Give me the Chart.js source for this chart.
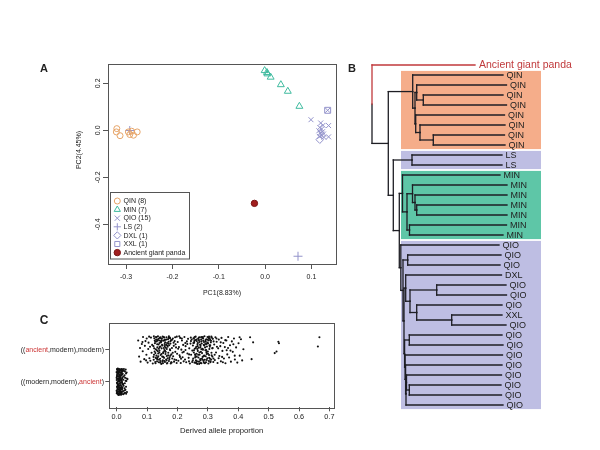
<!DOCTYPE html>
<html><head><meta charset="utf-8">
<script src="https://cdn.jsdelivr.net/npm/chart.js@4/dist/chart.umd.min.js"></script>
<style>
html,body{margin:0;padding:0;background:#fff}
body{width:600px;height:450px;overflow:hidden;position:relative}
canvas{position:absolute}
</style></head><body>
<canvas id="cA" width="345" height="250" style="left:0px;top:55px"></canvas>
<canvas id="cB" width="255" height="360" style="left:345px;top:55px"></canvas>
<canvas id="cC" width="345" height="145" style="left:0px;top:305px"></canvas>
<script>
const FONT = '"Liberation Sans", Arial, Helvetica, sans-serif';
Chart.defaults.font.family = FONT;
Chart.defaults.color = '#222';
Chart.defaults.animation = false;

// ================= Panel A : PCA =================
const pc1Ticks = [-0.3, -0.2, -0.1, 0.0, 0.1];
const pc2Ticks = [-0.4, -0.2, 0.0, 0.2];
const qinPC1 = [-0.320, -0.321, -0.313, -0.295, -0.292, -0.288, -0.284, -0.276];
const qinPC2 = [0.007, -0.007, -0.023, -0.007, -0.018, -0.004, -0.021, -0.007];
const minPC1 = [-0.001, 0.004, 0.005, 0.012, 0.034, 0.049, 0.074];
const minPC2 = [0.254, 0.246, 0.240, 0.226, 0.194, 0.166, 0.102];
const qioPC1 = [0.099, 0.135, 0.137, 0.137, 0.120, 0.125, 0.118, 0.122, 0.116, 0.124, 0.119, 0.126, 0.121, 0.117, 0.127];
const qioPC2 = [0.045, 0.085, 0.020, -0.028, 0.031, 0.021, 0.012, 0.005, -0.002, -0.006, -0.012, -0.016, -0.022, -0.026, -0.030];
const lsPC1 = [0.071, -0.292];
const lsPC2 = [-0.536, -0.001];
const dxlPC1 = [0.118];
const dxlPC2 = [-0.040];
const xxlPC1 = [0.135];
const xxlPC2 = [0.085];
const ancPC1 = [-0.023];
const ancPC2 = [-0.311];

// ================= Panel B : tree =================
const leafLabels = ['Ancient giant panda',
  'QIN','QIN','QIN','QIN','QIN','QIN','QIN','QIN',
  'LS','LS',
  'MIN','MIN','MIN','MIN','MIN','MIN','MIN',
  'QIO','QIO','QIO','DXL','QIO','QIO','QIO','XXL','QIO','QIO','QIO','QIO','QIO','QIO','QIO','QIO','QIO'];
const leafTip = [103,
  131, 134.5, 131, 134.5, 132.5, 133, 132.5, 133,
  130, 130,
  128, 135, 135, 135, 135, 134.5, 131,
  127, 129, 128, 129.5, 134, 134.5, 130, 130, 134, 130, 131, 130.5, 130, 129.5, 129, 129.5, 131];
// [node, depth, child, child]  (numbers = leaf rows, strings = nodes)
const treeNodes = [
  ['root', 0, 0, 'modern'],
  ['modern', 16.3, 'qin', 'rest'],
  ['qin', 40.7, 1, 'q2'],
  ['q2', 43, 'q3', 'q5'],
  ['q3', 44.7, 2, 'q4'],
  ['q4', 51.3, 3, 4],
  ['q5', 43.7, 5, 'q6'],
  ['q6', 48, 6, 'q7'],
  ['q7', 61.3, 7, 8],
  ['rest', 21.3, 'ls', 'mq'],
  ['ls', 40, 9, 10],
  ['mq', 27.3, 'min', 'qio'],
  ['min', 30.5, 11, 'm2'],
  ['m2', 35, 'm3', 'm6'],
  ['m3', 40.5, 12, 'm4'],
  ['m4', 43, 13, 'm5'],
  ['m5', 44.7, 14, 15],
  ['m6', 37.5, 16, 17],
  ['qio', 28.8, 18, 'o1'],
  ['o1', 31, 'o2', 'o3'],
  ['o2', 35.7, 19, 20],
  ['o3', 32, 'o4', 'o8'],
  ['o4', 33.7, 21, 'o5'],
  ['o5', 38, 'o6', 'o7'],
  ['o6', 64.7, 22, 23],
  ['o7', 44.7, 24, 'o7b'],
  ['o7b', 79.7, 25, 26],
  ['o8', 32.6, 'o9', 'o10'],
  ['o9', 37.3, 27, 28],
  ['o10', 33.1, 29, 'o11'],
  ['o11', 33.6, 30, 'o12'],
  ['o12', 34, 'o13', 34],
  ['o13', 34.5, 31, 'o14'],
  ['o14', 37.3, 32, 33]
];
const groupBands = [[1, 8, '#F5AD8A'], [9, 10, '#BEBEE3'], [11, 17, '#5EC6A7'], [18, 34, '#BEBEE3']];

// ================= Panel C : derived allele proportion =================
const cTicks = [0.0, 0.1, 0.2, 0.3, 0.4, 0.5, 0.6, 0.7];
const cCategories = ['((modern,modern),ancient)', '((ancient,modern),modern)'];
// [proportion, vertical jitter]
const topPts = [
[.071,.30],[.074,-.21],[.077,.06],[.079,-.37],[.083,.19],[.086,-.04],[.087,.41],[.091,-.29],[.093,.13],[.095,.28],[.098,-.15],[.099,.36],[.102,-.40],[.104,.03],[.105,.23],[.108,-.26],[.110,.10],[.111,-.34],[.113,.39],[.115,-.09],[.117,.16],[.119,-.43],[.085,.25],[.097,-.33],[.107,.42],
[.121,.12],[.122,-.31],[.124,.37],[.125,-.05],[.126,.21],[.128,-.42],[.129,.02],[.130,.33],[.131,-.18],[.132,.27],
[.133,-.36],[.134,.08],[.135,-.24],[.136,.43],[.137,-.11],[.138,.17],[.139,-.39],[.140,.30],[.141,-.02],[.142,.38],
[.143,-.28],[.144,.11],[.145,-.16],[.146,.24],[.147,-.44],[.148,.05],[.149,.35],[.150,-.21],[.151,.14],[.152,-.33],
[.153,.29],[.154,-.07],[.155,.41],[.156,-.25],[.157,.00],[.158,.19],[.159,-.38],[.160,.32],[.161,-.13],[.162,.07],
[.163,-.30],[.164,.40],[.165,-.19],[.166,.22],[.167,-.41],[.168,.10],[.169,.34],[.170,-.09],[.171,.26],[.172,-.35],
[.173,.15],[.174,-.23],[.175,.39],[.176,-.01],[.177,.20],[.178,-.43],[.179,.31],[.180,-.14],[.182,.06],[.183,-.27],
[.185,.36],[.186,-.20],[.188,.13],[.189,-.37],[.191,.28],[.193,-.06],[.194,.18],[.196,-.32],[.198,.42],[.199,-.12],
[.123,-.15],[.127,.26],[.134,-.29],[.139,.04],[.144,.40],[.151,-.37],[.157,.31],[.163,.16],[.168,-.26],[.176,.37],
[.127,-.38],[.141,.22],[.153,-.10],[.165,.03],[.172,.43],[.181,-.40],[.147,.29],[.159,-.03],[.131,.40],[.137,-.20],
[.1215,-.22],[.1235,.05],[.1255,.30],[.1275,-.10],[.1295,.41],[.1315,-.27],[.1335,.18],[.1355,-.04],[.1375,.35],[.1395,-.31],
[.1415,.09],[.1435,-.40],[.1455,.27],[.1475,-.13],[.1495,.16],[.1515,.42],[.1535,-.22],[.1555,.06],[.1575,-.35],[.1595,.24],
[.1615,-.06],[.1635,.33],[.1655,-.43],[.1675,.14],[.1695,-.17],[.1715,.38],[.1735,-.29],[.1755,.02],[.1775,.28],[.1795,-.39],
[.1225,.43],[.1285,-.25],[.1345,.31],[.1405,-.08],[.1465,.36],[.1525,-.42],[.1585,.12],[.1645,-.33],[.1705,.20],[.1765,-.18],
[.1825,.32],[.1845,-.09],[.1875,.23],[.1905,-.30],[.1925,.40],[.1955,.08],[.1975,-.41],[.1325,-.01],[.1445,-.35],[.1565,.39],
[.201,.25],[.203,-.34],[.205,.09],[.207,-.17],[.209,.38],[.211,-.41],[.213,.01],[.215,.30],[.217,-.23],[.219,.16],
[.221,-.06],[.223,.41],[.225,-.30],[.227,.12],[.229,-.39],[.231,.27],[.233,-.11],[.235,.35],[.237,-.25],[.239,.05],
[.241,-.43],[.243,.20],[.245,-.15],[.247,.33],[.249,-.02],[.212,-.28],[.226,.22],[.238,-.36],[.206,.43],[.244,.39],
[.2025,.04],[.2085,-.22],[.2145,.36],[.2205,-.36],[.2265,.00],[.2325,.19],[.2385,-.14],[.2445,.28],[.2485,-.38],[.2165,-.08],
[.251,.14],[.252,-.27],[.253,.37],[.254,-.08],[.255,.23],[.256,-.40],[.257,.04],[.258,.31],[.259,-.19],[.260,.42],
[.261,-.33],[.262,.10],[.263,-.12],[.264,.28],[.265,-.44],[.266,.18],[.267,-.03],[.268,.35],[.269,-.24],[.270,.07],
[.271,-.37],[.272,.25],[.273,-.15],[.274,.40],[.275,-.29],[.276,.13],[.277,-.06],[.278,.33],[.279,-.42],[.280,.20],
[.281,-.10],[.282,.38],[.283,-.22],[.284,.01],[.285,.29],[.286,-.35],[.287,.16],[.288,-.18],[.289,.43],[.290,-.31],
[.291,.08],[.292,-.01],[.293,.26],[.294,-.39],[.295,.34],[.296,-.13],[.297,.11],[.298,-.26],[.299,.41],[.300,-.05],
[.301,.21],[.302,-.43],[.303,.30],[.304,-.16],[.305,.03],[.306,.37],[.307,-.28],[.308,.15],[.309,-.36],[.310,.24],
[.312,-.09],[.313,.39],[.315,-.21],[.316,.06],[.318,-.38],[.319,.27],[.254,.36],[.262,-.41],[.271,.31],[.279,.02],
[.287,-.40],[.296,.19],[.304,.42],[.311,-.30],[.258,-.14],[.276,-.33],[.293,-.20],[.300,.32],[.267,.22],[.284,.41],
[.2505,-.33],[.2525,.22],[.2545,-.01],[.2565,.41],[.2585,-.24],[.2605,.06],[.2625,.33],[.2645,-.36],[.2665,.12],[.2685,-.15],
[.2705,.39],[.2725,-.08],[.2745,.17],[.2765,-.41],[.2785,.27],[.2805,-.28],[.2825,.04],[.2845,.36],[.2865,-.19],[.2885,.14],
[.2905,-.42],[.2925,.31],[.2945,.00],[.2965,-.32],[.2985,.23],[.3005,-.12],[.3025,.38],[.3045,-.25],[.3065,.10],[.3085,-.39],
[.3105,.29],[.3125,-.17],[.3145,.05],[.3165,.35],[.3185,-.27],[.2555,.28],[.2635,-.21],[.2715,-.44],[.2795,.41],[.2875,.25],
[.2955,-.07],[.3035,-.35],[.3115,.42],[.2595,-.40],[.2755,.08],[.2915,.19],[.3075,.32],[.2655,.03],[.2835,-.31],[.3055,.15],
[.321,.17],[.323,-.32],[.325,.40],[.327,-.08],[.329,.26],[.332,-.41],[.334,.05],[.336,.33],[.338,-.19],[.341,.12],
[.343,-.36],[.345,.38],[.348,-.03],[.351,.22],[.353,-.27],[.356,.09],[.358,-.42],[.361,.30],[.364,-.14],[.367,.41],
[.370,-.24],[.373,.15],[.376,-.37],[.379,.27],[.382,-.06],[.386,.36],[.389,-.30],[.393,.08],[.397,-.40],[.401,.21],
[.405,-.18],[.409,.34],[.413,-.33],[.417,.02],[.330,.10],[.347,-.22],[.362,-.01],[.384,.18],
[.3225,-.15],[.3285,.36],[.3355,-.26],[.3425,.24],[.3495,-.39],[.3575,.31],[.3665,.06],[.3745,-.02],[.3885,-.18],[.4045,.40],
[.439,.40],[.449,.24],[.444,-.29],[.532,.26],[.534,.21],[.526,-.05],[.520,-.10],[.667,.40],[.662,.11]
];
const botPts = [
[.000,.12],[.001,-.33],[.002,.38],[.003,-.07],[.004,.24],[.005,-.40],[.006,.03],[.007,.31],[.008,-.19],[.009,.17],
[.010,-.27],[.011,.35],[.012,-.11],[.013,.08],[.014,-.36],[.015,.27],[.016,-.02],[.017,.40],[.018,-.23],[.019,.14],
[.000,-.29],[.001,.21],[.002,-.15],[.003,.36],[.004,-.38],[.005,.10],[.006,-.24],[.007,.01],[.008,.33],[.009,-.41],
[.010,.19],[.011,-.06],[.012,.28],[.013,-.31],[.014,.05],[.015,-.14],[.016,.37],[.017,-.35],[.018,.23],[.019,-.09],
[.000,.30],[.001,-.04],[.002,.09],[.003,-.22],[.004,.41],[.005,-.17],[.006,.26],[.007,-.37],[.008,.15],[.009,.00],
[.010,-.39],[.011,.11],[.012,-.28],[.013,.39],[.014,-.20],[.015,.07],[.016,-.32],[.017,.22],[.018,-.01],[.019,.32],
[.001,.16],[.003,-.34],[.005,.29],[.007,-.12],[.009,.37],[.011,-.25],[.013,.18],[.015,-.40],[.017,.04],[.019,-.18],
[.020,.25],[.021,-.30],[.022,.06],[.023,-.13],[.024,.34],[.025,-.37],[.026,.20],[.027,-.05],[.028,.12],[.029,-.26],
[.030,.38],[.031,-.16],[.032,.02],[.033,.29],[.034,-.33],[.022,-.40],[.024,.40],[.026,-.21],[.028,-.35],[.031,.26],
[.002,.27],[.004,-.08],[.006,-.42],[.008,.40],[.010,.04],[.012,-.36],[.014,.21],[.016,-.18],[.018,.35],[.036,.08],
[.0005,.05],[.0025,-.26],[.0045,.33],[.0065,-.09],[.0085,.22],[.0105,-.33],[.0125,.13],[.0145,-.41],[.0165,.30],[.0185,-.05],
[.0005,-.37],[.0025,.18],[.0045,-.13],[.0065,.39],[.0085,-.30],[.0105,.07],[.0125,-.20],[.0145,.34],[.0165,-.25],[.0185,.10],
[.0015,.40],[.0035,-.01],[.0055,-.31],[.0075,.17],[.0095,-.22],[.0115,.29],[.0135,-.02],[.0155,.20],[.0175,-.39],[.0195,.38],
[.0215,-.08],[.0235,.16],[.0255,-.28],[.0275,.32],[.0295,.03],[.0315,-.38],[.0335,.10],[.0015,-.17],[.0055,.06],[.0095,-.14]
];

// ---------- helpers ----------
const zip = (a, b) => a.map((v, i) => ({x: v, y: b[i]}));
const fmt1 = v => (Math.abs(v) < 1e-9 ? 0 : v).toFixed(1);

function drawMarker(ctx, style, x, y, r, stroke, fill) {
  ctx.save();
  ctx.strokeStyle = stroke; ctx.lineWidth = 1; ctx.beginPath();
  if (style === 'circle') { ctx.arc(x, y, r, 0, Math.PI * 2); }
  else if (style === 'triangle') {
    for (let k = 0; k < 3; k++) { const a = k * 2 * Math.PI / 3; const px = x + Math.sin(a) * r, py = y - Math.cos(a) * r; k ? ctx.lineTo(px, py) : ctx.moveTo(px, py); }
    ctx.closePath();
  } else if (style === 'crossRot') { const d = r * 0.75; ctx.moveTo(x - d, y - d); ctx.lineTo(x + d, y + d); ctx.moveTo(x - d, y + d); ctx.lineTo(x + d, y - d); }
  else if (style === 'cross') { ctx.moveTo(x - r, y); ctx.lineTo(x + r, y); ctx.moveTo(x, y - r); ctx.lineTo(x, y + r); }
  else if (style === 'rectRot') { ctx.moveTo(x, y - r); ctx.lineTo(x + r, y); ctx.lineTo(x, y + r); ctx.lineTo(x - r, y); ctx.closePath(); }
  else if (style === 'rect') { const s = r * Math.SQRT1_2; ctx.rect(x - s, y - s, 2 * s, 2 * s); }
  if (fill && fill !== 'transparent') { ctx.fillStyle = fill; ctx.fill(); }
  ctx.stroke();
  ctx.restore();
}

const boxPlugin = {
  id: 'plotBox',
  afterDraw(chart) {
    const {ctx, chartArea: a} = chart;
    ctx.save(); ctx.strokeStyle = '#555'; ctx.lineWidth = 1;
    ctx.strokeRect(Math.round(a.left) + 0.5, Math.round(a.top) + 0.5, Math.round(a.right - a.left), Math.round(a.bottom - a.top));
    ctx.restore();
  }
};

// ================= Chart A =================
const cQIN = '#E6A468', cMIN = '#3FBB9F', cQIO = '#9393CB', cANC = '#A11E1E';
const pcaSets = [
  {label: 'QIN (8)', data: zip(qinPC1, qinPC2), pointStyle: 'circle', pointRadius: 3, borderColor: cQIN, backgroundColor: 'transparent'},
  {label: 'MIN (7)', data: zip(minPC1, minPC2), pointStyle: 'triangle', pointRadius: 4, borderColor: cMIN, backgroundColor: 'transparent'},
  {label: 'QIO (15)', data: zip(qioPC1, qioPC2), pointStyle: 'crossRot', pointRadius: 3.5, borderColor: cQIO, backgroundColor: 'transparent'},
  {label: 'LS (2)', data: zip(lsPC1, lsPC2), pointStyle: 'cross', pointRadius: 4.5, borderColor: cQIO, backgroundColor: 'transparent'},
  {label: 'DXL (1)', data: zip(dxlPC1, dxlPC2), pointStyle: 'rectRot', pointRadius: 3.8, borderColor: cQIO, backgroundColor: 'transparent'},
  {label: 'XXL (1)', data: zip(xxlPC1, xxlPC2), pointStyle: 'rect', pointRadius: 4.2, borderColor: cQIO, backgroundColor: 'transparent'},
  {label: 'Ancient giant panda', data: zip(ancPC1, ancPC2), pointStyle: 'circle', pointRadius: 3.2, borderColor: '#7a1414', backgroundColor: cANC}
].map(d => Object.assign(d, {borderWidth: 1, pointHoverRadius: d.pointRadius}));

const panelAPlugin = {
  id: 'panelA',
  afterDraw(chart) {
    const ctx = chart.ctx, ys = chart.scales.y;
    ctx.save();
    ctx.fillStyle = '#222'; ctx.font = '7px ' + FONT; ctx.textAlign = 'center'; ctx.textBaseline = 'middle';
    pc2Ticks.forEach(v => {
      const y = ys.getPixelForValue(v);
      ctx.save(); ctx.translate(98, y); ctx.rotate(-Math.PI / 2); ctx.fillText(fmt1(v), 0, 0); ctx.restore();
    });
    ctx.save(); ctx.translate(79, 95); ctx.rotate(-Math.PI / 2); ctx.fillText('PC2(4.45%)', 0, 0); ctx.restore();
    // legend
    const lx = 110.5, ly = 137.5, lw = 79, lh = 66.5;
    ctx.fillStyle = '#fff'; ctx.fillRect(lx, ly, lw, lh);
    ctx.strokeStyle = '#555'; ctx.lineWidth = 1; ctx.strokeRect(lx, ly, lw, lh);
    ctx.textAlign = 'left'; ctx.fillStyle = '#222';
    chart.data.datasets.forEach((d, i) => {
      const y = 146 + i * 8.6;
      drawMarker(ctx, d.pointStyle, 117.3, y, Math.min(d.pointRadius, 3.6), d.borderColor, d.backgroundColor);
      ctx.fillStyle = '#222'; ctx.fillText(d.label, 123.5, y + 0.3);
    });
    ctx.font = 'bold 11px ' + FONT; ctx.textAlign = 'center';
    ctx.fillText('A', 44, 13.5);
    ctx.restore();
  }
};

new Chart(document.getElementById('cA'), {
  type: 'scatter',
  data: {datasets: pcaSets},
  options: {
    responsive: false, animation: false, events: [],
    layout: {padding: {left: 70, right: 9, top: 9, bottom: 0}},
    plugins: {legend: {display: false}, tooltip: {enabled: false}},
    scales: {
      x: {
        type: 'linear', min: -0.339, max: 0.153,
        afterBuildTicks: s => { s.ticks = pc1Ticks.map(v => ({value: v})); },
        afterFit: s => { s.height = 41; },
        grid: {drawOnChartArea: false, drawTicks: true, tickLength: 5, color: '#555', tickColor: '#555'},
        border: {display: false},
        ticks: {padding: 4, font: {size: 7}, color: '#222', maxRotation: 0, callback: v => fmt1(v)},
        title: {display: true, text: 'PC1(8.83%)', font: {size: 7}, color: '#222', padding: {top: 0, bottom: 8}}
      },
      y: {
        type: 'linear', min: -0.569, max: 0.282,
        afterBuildTicks: s => { s.ticks = pc2Ticks.map(v => ({value: v})); },
        afterFit: s => { s.width = 38; },
        grid: {drawOnChartArea: false, drawTicks: true, tickLength: 5, color: '#555', tickColor: '#555'},
        border: {display: false},
        ticks: {display: false}
      }
    }
  },
  plugins: [boxPlugin, panelAPlugin]
});

// ================= Chart B =================
const ROOTPX = 372; // tree root drawn at this page x
const nodeMap = {};
treeNodes.forEach(n => { nodeMap[n[0]] = {depth: n[1], kids: n.slice(2)}; });
const yMemo = {};
function childY(c) {
  if (typeof c === 'number') return c;
  if (yMemo[c] !== undefined) return yMemo[c];
  const ys = nodeMap[c].kids.map(childY);
  return (yMemo[c] = (Math.min(...ys) + Math.max(...ys)) / 2);
}
function childDepth(c) { return typeof c === 'number' ? leafTip[c] : nodeMap[c].depth; }
const treeSets = [];
treeNodes.forEach(n => {
  const id = n[0], d = n[1], ny = childY(id);
  n.slice(2).forEach(c => {
    const cy = childY(c), col = (c === 0) ? '#C0393B' : '#1E1E24';
    treeSets.push({data: [{x: d, y: ny}, {x: d, y: cy}], borderColor: col});
    treeSets.push({data: [{x: d, y: cy}, {x: childDepth(c), y: cy}], borderColor: col});
  });
});
treeSets.forEach(s => Object.assign(s, {showLine: true, pointRadius: 0, borderWidth: 1.3, borderCapStyle: 'square', fill: false}));

const panelBPlugin = {
  id: 'panelB',
  beforeDatasetsDraw(chart) {
    const {ctx, scales: {x, y}} = chart;
    ctx.save();
    groupBands.forEach(([a, b, col]) => {
      const x0 = x.getPixelForValue(401 - ROOTPX), x1 = x.getPixelForValue(541 - ROOTPX);
      const y0 = y.getPixelForValue(a - 0.41), y1 = y.getPixelForValue(b + 0.41);
      ctx.fillStyle = col; ctx.fillRect(x0, y0, x1 - x0, y1 - y0);
    });
    ctx.restore();
  },
  afterDatasetsDraw(chart) {
    const {ctx, scales: {x, y}} = chart;
    ctx.save();
    ctx.textAlign = 'left'; ctx.textBaseline = 'middle';
    leafLabels.forEach((lab, i) => {
      const px = x.getPixelForValue(leafTip[i]) + 3.5, py = y.getPixelForValue(i);
      if (i === 0) { ctx.fillStyle = '#C0393B'; ctx.font = '10.5px ' + FONT; ctx.fillText(lab, px + 0.5, py + 0.5); }
      else { ctx.fillStyle = '#222'; ctx.font = '9px ' + FONT; ctx.fillText(lab, px, py + 0.5); }
    });
    ctx.fillStyle = '#222'; ctx.font = 'bold 11px ' + FONT; ctx.textAlign = 'center';
    ctx.fillText('B', 7, 13.5);
    ctx.restore();
  }
};

new Chart(document.getElementById('cB'), {
  type: 'scatter',
  data: {datasets: treeSets},
  options: {
    responsive: false, animation: false, events: [],
    layout: {padding: 0},
    plugins: {legend: {display: false}, tooltip: {enabled: false}},
    scales: {
      x: {type: 'linear', display: false, min: 345 - ROOTPX, max: 600 - ROOTPX},
      y: {type: 'linear', display: false, reverse: true, min: -1, max: 35}
    }
  },
  plugins: [panelBPlugin]
});

// ================= Chart C =================
const panelCPlugin = {
  id: 'panelC',
  afterDraw(chart) {
    const {ctx, scales: {y}} = chart;
    ctx.save();
    ctx.font = '7px ' + FONT; ctx.textBaseline = 'middle'; ctx.textAlign = 'left';
    cCategories.forEach((lab, i) => {
      const py = y.getPixelForValue(i + 1);
      const k = lab.indexOf('ancient');
      const parts = [[lab.slice(0, k), '#222'], ['ancient', '#CC3535'], [lab.slice(k + 7), '#222']];
      const total = parts.reduce((s, p) => s + ctx.measureText(p[0]).width, 0);
      let px = 104 - total;
      parts.forEach(([t, c]) => { ctx.fillStyle = c; ctx.fillText(t, px, py); px += ctx.measureText(t).width; });
    });
    ctx.fillStyle = '#222'; ctx.font = 'bold 12px ' + FONT; ctx.textAlign = 'center';
    ctx.fillText('C', 44, 15.5);
    ctx.restore();
  }
};

new Chart(document.getElementById('cC'), {
  type: 'scatter',
  data: {datasets: [
    {label: cCategories[1], data: topPts.map(p => ({x: p[0], y: 2 + p[1]}))},
    {label: cCategories[0], data: botPts.map(p => ({x: p[0], y: 1 + p[1]}))}
  ].map(d => Object.assign(d, {pointRadius: 1.05, pointBorderWidth: 0, pointBackgroundColor: '#111', borderColor: '#111'}))},
  options: {
    responsive: false, animation: false, events: [],
    layout: {padding: {left: 0, right: 11, top: 17.7, bottom: 0}},
    plugins: {legend: {display: false}, tooltip: {enabled: false}},
    scales: {
      x: {
        type: 'linear', min: -0.024, max: 0.715,
        afterBuildTicks: s => { s.ticks = cTicks.map(v => ({value: v})); },
        afterFit: s => { s.height = 42.7; },
        grid: {drawOnChartArea: false, drawTicks: true, tickLength: 4, color: '#555', tickColor: '#555'},
        border: {display: false},
        ticks: {padding: 1.5, font: {size: 7.3}, color: '#222', maxRotation: 0, callback: v => fmt1(v)},
        title: {display: true, text: 'Derived allele proportion', font: {size: 7.7}, color: '#222', padding: {top: 0, bottom: 14.5}}
      },
      y: {
        type: 'linear', min: 0.19, max: 2.86,
        afterBuildTicks: s => { s.ticks = [1, 2].map(v => ({value: v})); },
        afterFit: s => { s.width = 109.3; },
        grid: {drawOnChartArea: false, drawTicks: true, tickLength: 4, color: '#555', tickColor: '#555'},
        border: {display: false},
        ticks: {display: false}
      }
    }
  },
  plugins: [boxPlugin, panelCPlugin]
});
</script>
</body></html>
